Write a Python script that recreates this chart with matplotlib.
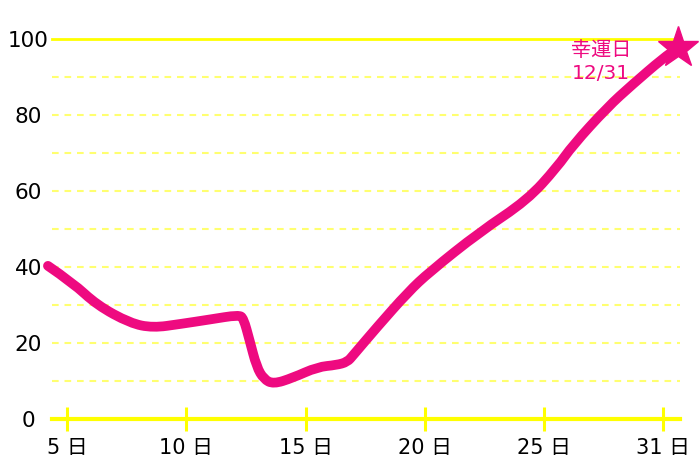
import numpy as np
import matplotlib.pyplot as plt
from matplotlib.path import Path
from matplotlib.patches import PathPatch

plt.rcParams['font.family'] = ['DejaVu Sans', 'Noto Sans CJK JP']

# tick labels (category positions 0..5)
day_labels = ["5 日", "10 日", "15 日", "20 日", "25 日", "31 日"]
y_ticks = [0, 20, 40, 60, 80, 100]

# curve (x in category units)
curve_x = [-0.16, 0.05, 0.25, 0.53, 0.72, 0.95, 1.20, 1.44, 1.48, 1.53, 1.59, 1.65,
           1.73, 1.89, 2.10, 2.26, 2.35, 2.40, 2.60, 2.86, 3.04, 3.46, 3.86,
           4.11, 4.24, 4.53, 4.74, 5.00, 5.12]
curve_y = [40.3, 35.8, 30.0, 25.2, 24.0, 25.0, 26.2, 27.4, 26.5, 20.8, 13.7, 10.5,
           9.2, 10.8, 13.7, 14.2, 15.0, 16.8, 24.2, 33.4, 38.7, 49.2, 57.6,
           66.3, 72.0, 82.0, 88.0, 95.0, 97.6]

lucky_x = 5.12
lucky_y = 97.6
lucky_text = "幸運日\n12/31"

pink = "#EE0A80"
yellow = "#FFFF00"
light_yellow = "#FFFF70"

fig = plt.figure(figsize=(7, 4.67), dpi=100)
ax = fig.add_axes([52/700, 48/467, 628/700, 380/467])

ax.set_xlim(-0.126, 5.14)
ax.set_ylim(0, 100)

# grid
for g in range(10, 100, 10):
    ax.axhline(g, color=light_yellow, lw=1.5, ls=(0, (3.2, 2.8)), zorder=1)
ax.axhline(100, color=yellow, lw=2, zorder=1, clip_on=False)

# smooth curve: quadratic bezier through midpoints of the read points
pts = list(zip(curve_x, curve_y))
verts = [pts[0]]
codes = [Path.MOVETO]
for i in range(1, len(pts) - 1):
    mid = ((pts[i][0] + pts[i + 1][0]) / 2, (pts[i][1] + pts[i + 1][1]) / 2)
    verts += [pts[i], mid]
    codes += [Path.CURVE3, Path.CURVE3]
verts.append(pts[-1])
codes.append(Path.LINETO)
curve = PathPatch(Path(verts, codes), fill=False, edgecolor=pink, lw=7,
                  joinstyle="round", capstyle="round", zorder=3, clip_on=False)
ax.add_patch(curve)

ax.plot([lucky_x], [lucky_y], marker="*", ms=31, color=pink, zorder=4, clip_on=False)
ax.text(4.478, 94.0, lucky_text, color=pink, fontsize=14.5, ha="center", va="center",
        linespacing=1.25)

for s in ["top", "right", "left"]:
    ax.spines[s].set_visible(False)
ax.spines["bottom"].set_color(yellow)
ax.spines["bottom"].set_linewidth(3)
ax.spines["bottom"].set_zorder(2)

ax.set_xticks(range(len(day_labels)))
ax.set_xticklabels(day_labels, fontsize=15)
ax.tick_params(axis="x", direction="inout", length=17, width=2.2, color=yellow, pad=5)

ax.set_yticks(y_ticks)
ax.set_yticklabels([str(v) for v in y_ticks], fontsize=15.5)
ax.tick_params(axis="y", length=0, pad=17)
for lab in ax.get_yticklabels():
    lab.set_horizontalalignment("center")

fig.savefig("out.png", dpi=100)
